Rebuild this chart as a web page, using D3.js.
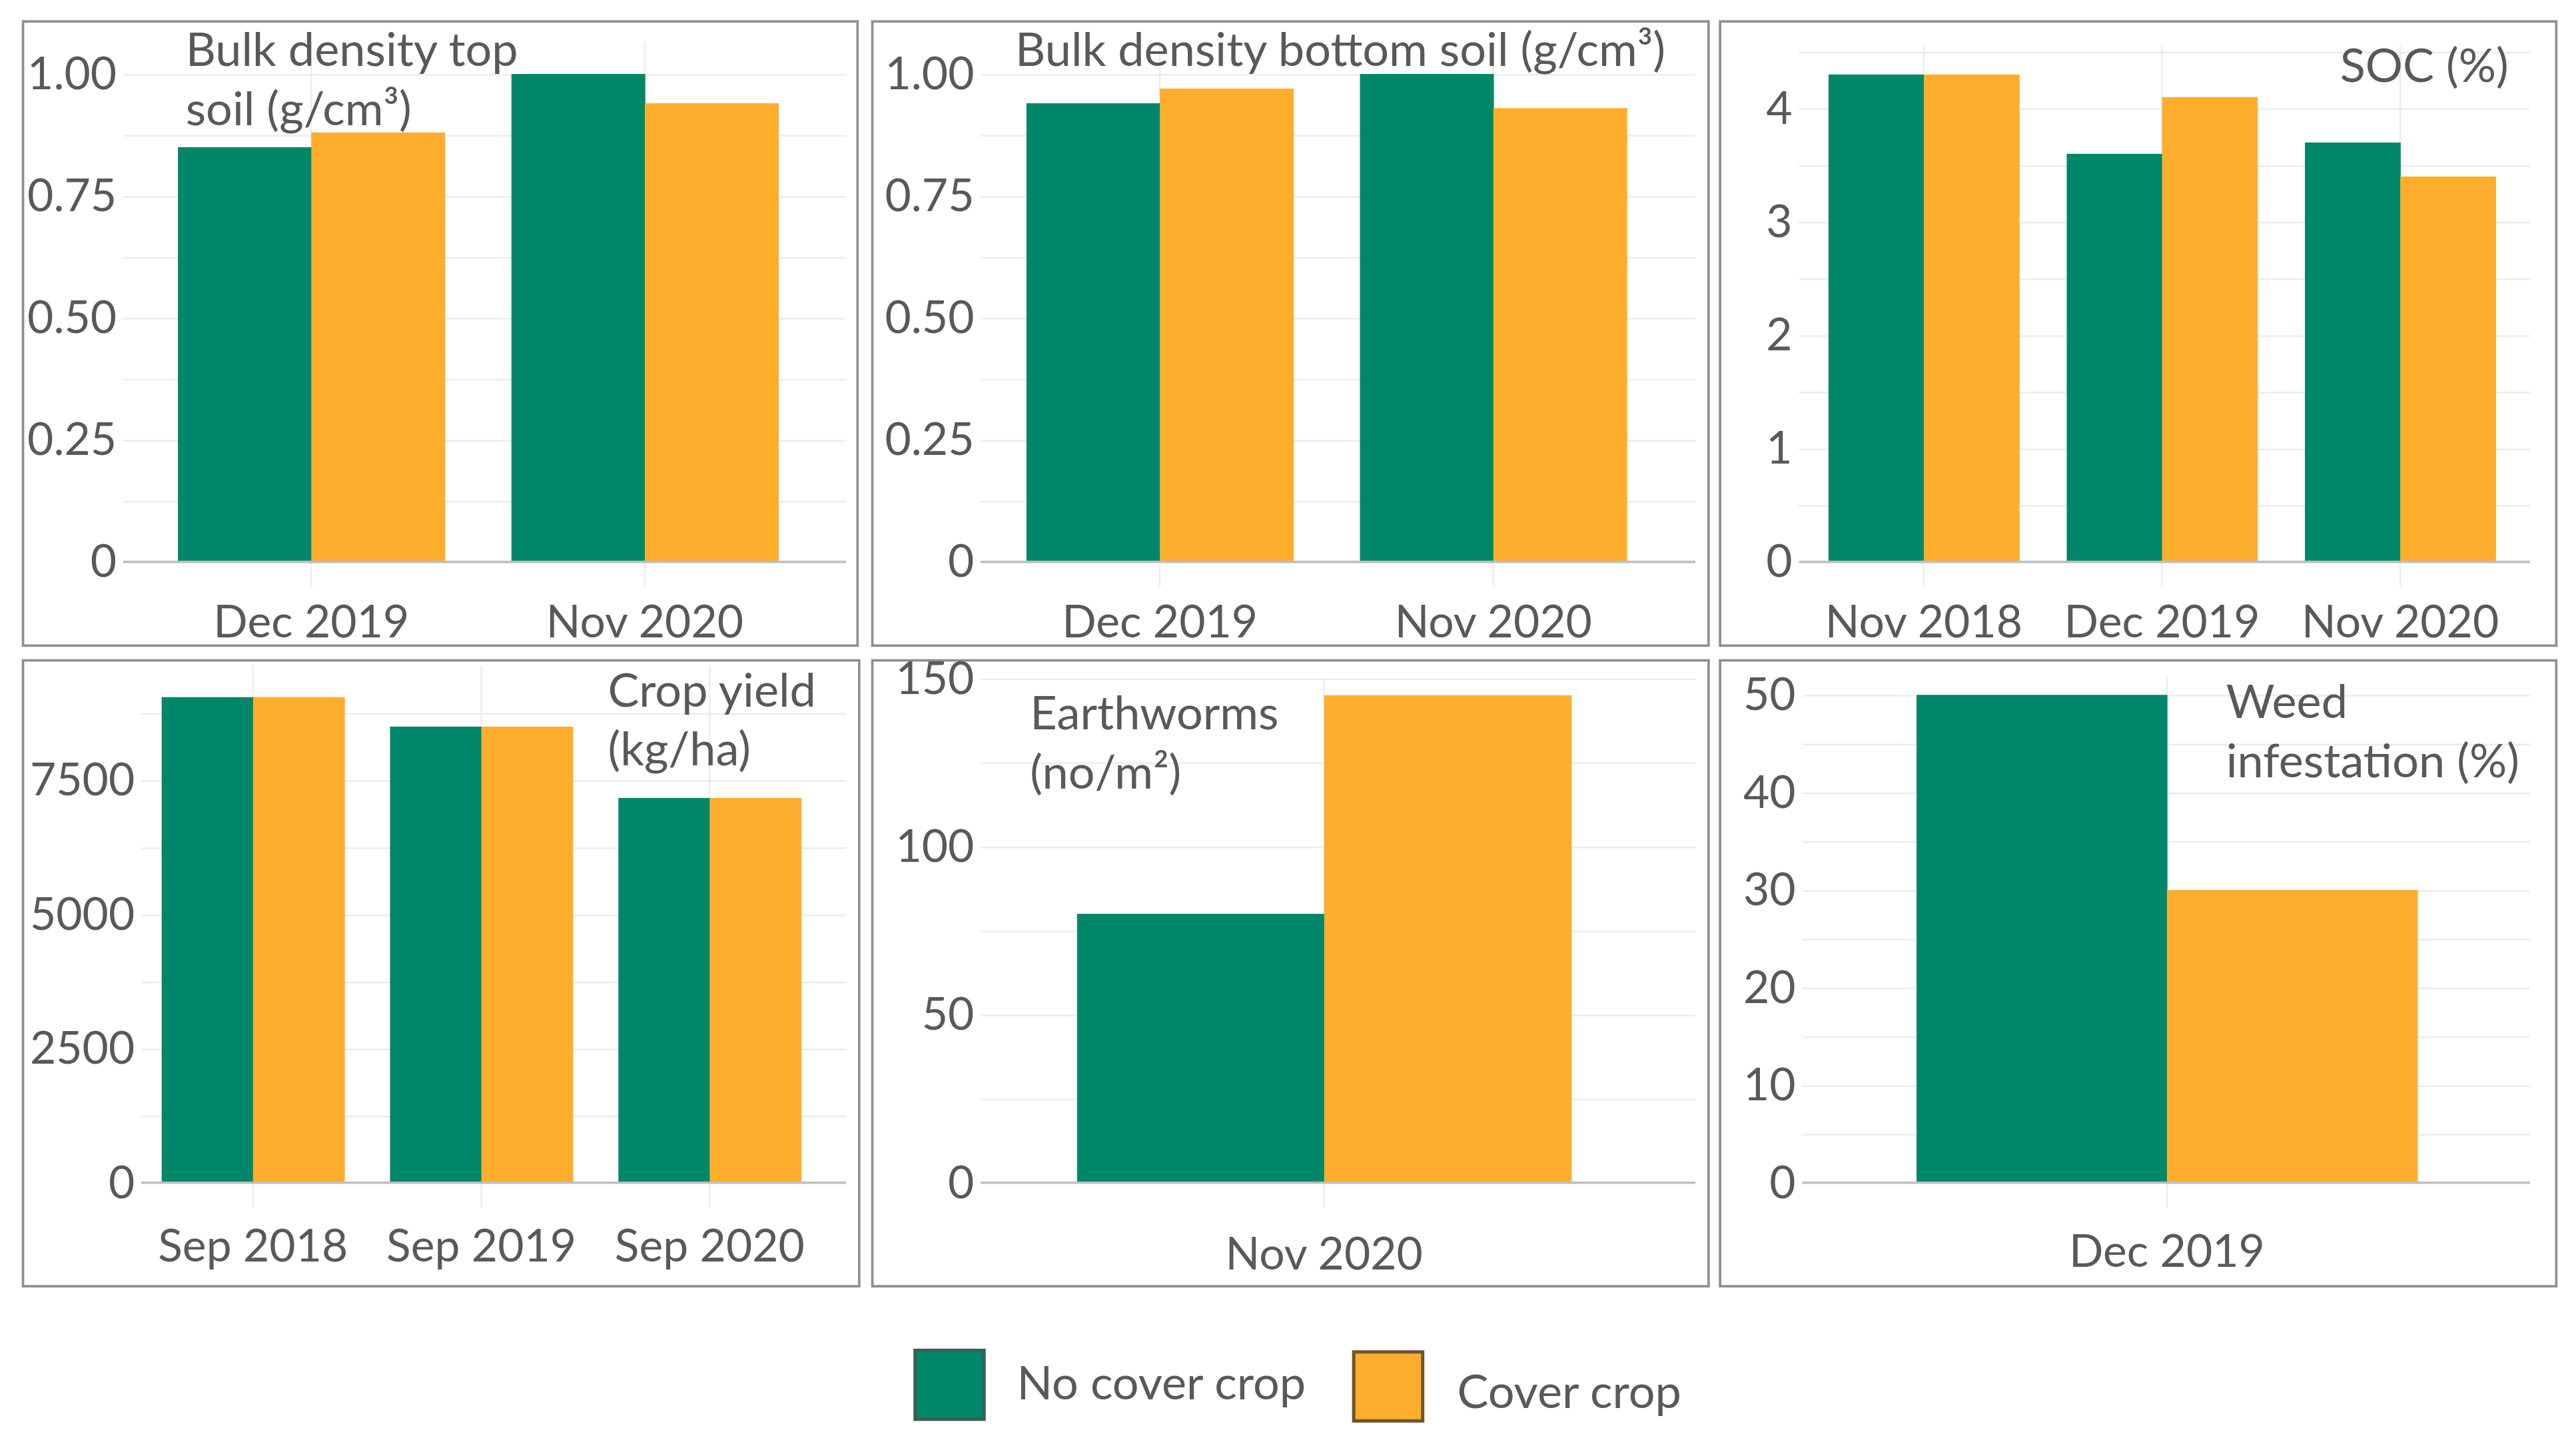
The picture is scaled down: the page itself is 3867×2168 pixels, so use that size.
<!DOCTYPE html>
<html>
<head>
<meta charset="utf-8">
<script src="https://cdn.jsdelivr.net/npm/d3@7"></script>
<style>
  body { margin: 0; background: #fff; }
  text { font-family: Lato, "Open Sans", sans-serif; fill: #595959; }
</style>
</head>
<body>
<div id="vis"></div>
<script>
// series
const series = ['No cover crop', 'Cover crop']
const colors = ['#00876a', '#fead2c']

// bulk density top soil
const bdTopDates = ['Dec 2019', 'Nov 2020']
const bdTopNo = [0.85, 1.00]
const bdTopCover = [0.88, 0.94]

// bulk density bottom soil
const bdBotDates = ['Dec 2019', 'Nov 2020']
const bdBotNo = [0.94, 1.00]
const bdBotCover = [0.97, 0.93]

// SOC
const socDates = ['Nov 2018', 'Dec 2019', 'Nov 2020']
const socNo = [4.3, 3.6, 3.7]
const socCover = [4.3, 4.1, 3.4]

// crop yield
const yieldDates = ['Sep 2018', 'Sep 2019', 'Sep 2020']
const yieldNo = [9050, 8500, 7170]
const yieldCover = [9050, 8500, 7170]

// earthworms
const wormDates = ['Nov 2020']
const wormNo = [80]
const wormCover = [145]

// weeds
const weedDates = ['Dec 2019']
const weedNo = [50]
const weedCover = [30]

// tick labels
const ticksBd = [0, 0.25, 0.5, 0.75, 1]
const ticksSoc = [0, 1, 2, 3, 4]
const ticksYield = [0, 2500, 5000, 7500]
const ticksWorm = [0, 50, 100, 150]
const ticksWeed = [0, 10, 20, 30, 40, 50]

const fmt2 = d => d === 0 ? '0' : d3.format('.2f')(d)
const fmt0 = d => String(d)

// layout (in a 1568 x 879 frame, scaled up to the page)
const panels = [
  { box: [14, 13, 522, 393], grid: [75, 515], top: 25, base: 342, yMax: 1, yTopPx: 45,
    ticks: ticksBd, step: 0.125, fmt: fmt2, band: [88, 494], dates: bdTopDates, no: bdTopNo, cover: bdTopCover,
    labelY: 388, title: ['Bulk density top', 'soil (g/cm³)'], tx: 113, ty: 40, anchor: 'start' },
  { box: [531, 13, 1040, 393], grid: [597, 1032], top: 25, base: 342, yMax: 1, yTopPx: 45,
    ticks: ticksBd, step: 0.125, fmt: fmt2, band: [604.5, 1010.5], dates: bdBotDates, no: bdBotNo, cover: bdBotCover,
    labelY: 388, title: ['Bulk density bottom soil (g/cm³)'], tx: 618, ty: 40, anchor: 'start' },
  { box: [1047, 13, 1556, 393], grid: [1095, 1540], top: 28, base: 342, yMax: 4, yTopPx: 66,
    ticks: ticksSoc, step: 0.5, gridMax: 4.5, fmt: fmt0, band: [1098.5, 1533.5], dates: socDates, no: socNo, cover: socCover,
    labelY: 388, title: ['SOC (%)'], tx: 1527, ty: 50, anchor: 'end' },
  { box: [14, 402, 523, 783], grid: [86, 515], top: 405, base: 720, yMax: 7500, yTopPx: 475,
    ticks: ticksYield, step: 1250, gridMax: 8750, fmt: fmt0, band: [84.5, 501.5], dates: yieldDates, no: yieldNo, cover: yieldCover,
    labelY: 768, title: ['Crop yield', '(kg/ha)'], tx: 370, ty: 430, anchor: 'start' },
  { box: [531, 402, 1040, 783], grid: [597, 1032], top: 413, base: 720, yMax: 150, yTopPx: 413,
    ticks: ticksWorm, step: 25, fmt: fmt0, band: [618, 994], dates: wormDates, no: wormNo, cover: wormCover,
    labelY: 773, title: ['Earthworms', '(no/m²)'], tx: 627, ty: 444, anchor: 'start' },
  { box: [1047, 402, 1556, 783], grid: [1097, 1540], top: 412, base: 720, yMax: 50, yTopPx: 423,
    ticks: ticksWeed, step: 5, fmt: fmt0, band: [1128.5, 1509.5], dates: weedDates, no: weedNo, cover: weedCover,
    labelY: 771, title: ['Weed', 'infestation (%)'], tx: 1355, ty: 437, anchor: 'start' }
]

const svg = d3.select('#vis')
  .append('svg')
  .attr('width', 3867)
  .attr('height', 2168)
  .attr('viewBox', '0 0 1568 879')

const fontSize = 27.5
const titleSize = 28.5

panels.forEach(p => {
  const g = svg.append('g')

  // panel frame
  g.append('rect')
    .attr('x', p.box[0]).attr('y', p.box[1])
    .attr('width', p.box[2] - p.box[0]).attr('height', p.box[3] - p.box[1])
    .attr('fill', 'none').attr('stroke', '#8f8f8f').attr('stroke-width', 1.5)

  const y = d3.scaleLinear().domain([0, p.yMax]).range([p.base, p.yTopPx])
  const x = d3.scaleBand().domain(p.dates).range(p.band).paddingInner(0.2).paddingOuter(0.1)
  const xs = d3.scaleBand().domain(series).range([0, x.bandwidth()])

  // horizontal gridlines (major + minor)
  const gridMax = p.gridMax || p.yMax
  const gridVals = d3.range(p.step, gridMax + p.step / 2, p.step)
  g.append('g')
    .attr('transform', `translate(${p.grid[0]},0)`)
    .call(d3.axisLeft(y).tickValues(gridVals).tickSize(-(p.grid[1] - p.grid[0])).tickFormat(''))
    .call(a => a.select('.domain').remove())
    .call(a => a.selectAll('line').attr('stroke', '#ececec').attr('stroke-width', 1))

  // vertical gridlines at categories
  g.selectAll('.vgrid')
    .data(p.dates)
    .join('line')
    .attr('x1', d => x(d) + x.bandwidth() / 2)
    .attr('x2', d => x(d) + x.bandwidth() / 2)
    .attr('y1', p.top).attr('y2', p.base + 15)
    .attr('stroke', '#ececec').attr('stroke-width', 1)

  // bars
  const rows = []
  p.dates.forEach((d, i) => {
    rows.push({ date: d, s: series[0], v: p.no[i] })
    rows.push({ date: d, s: series[1], v: p.cover[i] })
  })
  g.selectAll('.bar')
    .data(rows)
    .join('rect')
    .attr('x', d => x(d.date) + xs(d.s))
    .attr('width', xs.bandwidth() + 0.3)
    .attr('y', d => y(d.v))
    .attr('height', d => y(0) - y(d.v))
    .attr('fill', d => colors[series.indexOf(d.s)])

  // baseline
  g.append('line')
    .attr('x1', p.grid[0]).attr('x2', p.grid[1])
    .attr('y1', y(0)).attr('y2', y(0))
    .attr('stroke', '#bfbfbf').attr('stroke-width', 1.5)

  // y tick labels
  g.append('g')
    .attr('transform', `translate(${p.grid[0]},0)`)
    .call(d3.axisLeft(y).tickValues(p.ticks).tickSize(0).tickPadding(4).tickFormat(p.fmt))
    .call(a => a.select('.domain').remove())
    .call(a => a.selectAll('text')
      .attr('font-size', fontSize).style('font-family', 'Lato, sans-serif').attr('fill', '#595959'))

  // x labels
  g.append('g')
    .attr('transform', `translate(0,${p.labelY})`)
    .call(d3.axisBottom(x).tickSize(0).tickPadding(0))
    .call(a => a.select('.domain').remove())
    .call(a => a.selectAll('text')
      .attr('dy', 0).attr('y', 0)
      .attr('font-size', fontSize).style('font-family', 'Lato, sans-serif').attr('fill', '#595959'))

  // panel title
  const t = g.append('text')
    .attr('x', p.tx).attr('y', p.ty)
    .attr('text-anchor', p.anchor)
    .attr('font-size', titleSize)
  p.title.forEach((line, i) => {
    t.append('tspan').attr('x', p.tx).attr('dy', i === 0 ? 0 : 36).text(line)
  })
})

// legend
const legend = svg.append('g')
const legendX = d3.scaleOrdinal().domain(series).range([557, 824])
const legendTextX = d3.scaleOrdinal().domain(series).range([619, 887])
const legendY = d3.scaleOrdinal().domain(series).range([822, 823])

legend.selectAll('rect')
  .data(series)
  .join('rect')
  .attr('x', d => legendX(d))
  .attr('y', d => legendY(d))
  .attr('width', 42).attr('height', 42)
  .attr('fill', (d, i) => colors[i])
  .attr('stroke', (d, i) => i === 0 ? '#3b5f50' : '#6e5528')
  .attr('stroke-width', 2)

legend.selectAll('text')
  .data(series)
  .join('text')
  .attr('x', d => legendTextX(d))
  .attr('y', (d, i) => i === 0 ? 852 : 857)
  .attr('font-size', 28.5)
  .text(d => d)
</script>
</body>
</html>
